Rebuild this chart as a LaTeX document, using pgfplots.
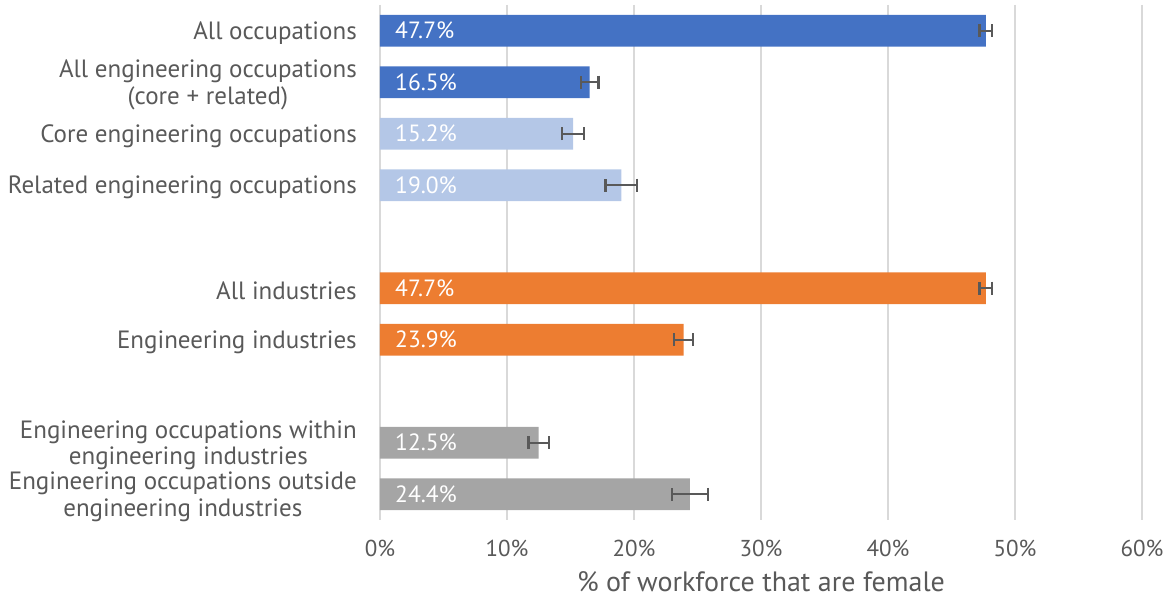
\documentclass[border=0pt]{standalone}
\usepackage{pgfplots}
\pgfplotsset{compat=1.18}
\usepackage{fontspec}
\setmainfont{PT Sans}
\definecolor{dblue}{HTML}{4472C4}
\definecolor{lblue}{HTML}{B4C7E7}
\definecolor{orng}{HTML}{ED7D31}
\definecolor{gry}{HTML}{A5A5A5}
\definecolor{txt}{HTML}{595959}
\definecolor{grd}{HTML}{D9D9D9}
\definecolor{errc}{HTML}{595959}
\pgfplotsset{
  ebar/.style={xbar, bar shift=0pt, draw=none, fill=#1,
    error bars/.cd, x dir=both, x explicit, error mark=|,
    error bar style={errc, line width=2.2pt},
    error mark options={errc, line width=2.2pt, mark size=6.5pt}}
}
\begin{document}
\begin{tikzpicture}[x=1pt,y=1pt]
\useasboundingbox (0,0) rectangle (1168,601);
\begin{axis}[
  at={(380pt,81pt)}, anchor=south west,
  scale only axis, width=762pt, height=515pt,
  xmin=0, xmax=60, ymin=-0.5, ymax=9.5, y dir=reverse,
  bar width=0.62,
  xtick={0,10,...,60}, xticklabels={0\%,10\%,20\%,30\%,40\%,50\%,60\%},
  ytick={0,1,2,3,5,6,8,9},
  yticklabels={All occupations,
    {All engineering occupations\\(core + related)},
    Core engineering occupations,
    Related engineering occupations,
    All industries,
    Engineering industries,
    {Engineering occupations within\\engineering industries},
    {Engineering occupations outside\\engineering industries}},
  yticklabel style={align=center, font=\fontsize{25}{26.5}\selectfont, text=txt, inner sep=0pt, xshift=-23pt, yshift=-2.5pt},
  xticklabel style={font=\fontsize{23}{26}\selectfont, text=txt, anchor=center, yshift=-28pt},
  major tick length=0pt,
  axis line style={draw=none},
  xmajorgrids, grid style={grd, line width=2pt},
  xlabel={\% of workforce that are female},
  xlabel style={font=\fontsize{28}{30}\selectfont, text=txt, at={(axis description cs:0.5,0)}, anchor=center, yshift=-62pt},
  clip=false,
]
\addplot[ebar=dblue] table[x=x, y=y, x error=e, row sep=\\] {
x y e\\ 47.7 0 0.5\\ 16.5 1 0.7\\};
\addplot[ebar=lblue] table[x=x, y=y, x error=e, row sep=\\] {
x y e\\ 15.2 2 0.85\\ 19.0 3 1.25\\};
\addplot[ebar=orng] table[x=x, y=y, x error=e, row sep=\\] {
x y e\\ 47.7 5 0.5\\ 23.9 6 0.73\\};
\addplot[ebar=gry] table[x=x, y=y, x error=e, row sep=\\] {
x y e\\ 12.5 8 0.8\\ 24.4 9 1.4\\};
\addplot[draw=none, mark=none, point meta=explicit,
  nodes near coords={\pgfmathprintnumber[fixed, fixed zerofill, precision=1, assume math mode=true]{\pgfplotspointmeta}\%},
  nodes near coords style={anchor=west, text=white, inner sep=0pt, xshift=15pt, font=\fontsize{23.5}{26}\selectfont}]
  table[x=x, y=y, meta=v, row sep=\\] {
x y v\\ 0 0 47.7\\ 0 1 16.5\\ 0 2 15.2\\ 0 3 19.0\\ 0 5 47.7\\ 0 6 23.9\\ 0 8 12.5\\ 0 9 24.4\\};
\end{axis}
\end{tikzpicture}
\end{document}
